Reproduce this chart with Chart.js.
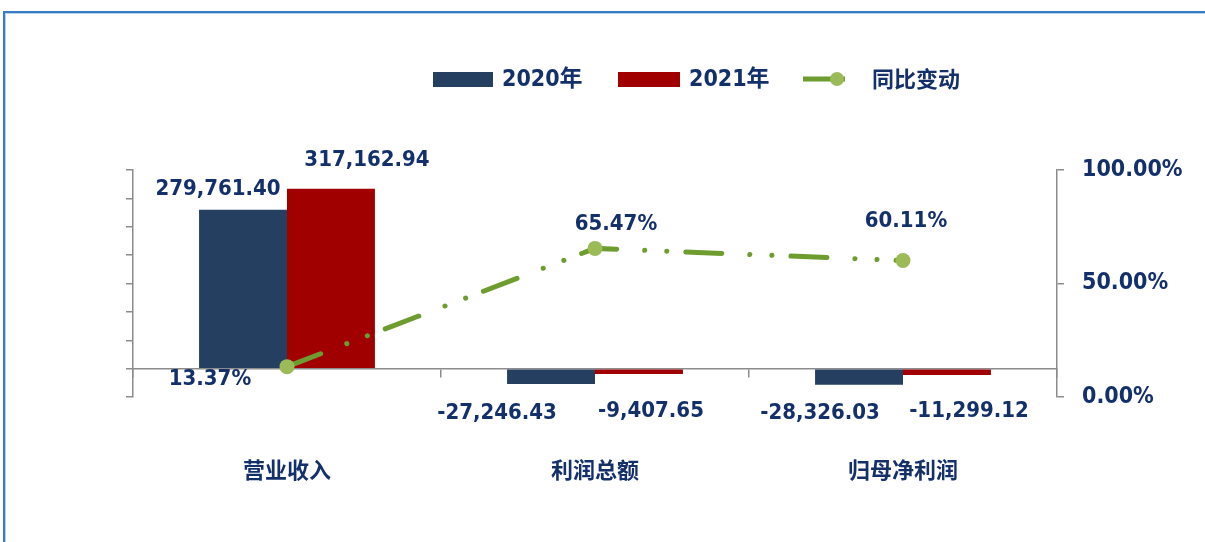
<!DOCTYPE html>
<html>
<head>
<meta charset="utf-8">
<script src="https://cdn.jsdelivr.net/npm/chart.js@4.4.1/dist/chart.umd.min.js"></script>
<style>
    body { margin: 0; background: #fff; }
    #wrap { position: relative; width: 1205px; height: 542px; overflow: hidden; }
    #frame { position: absolute; left: 3px; top: 11px; width: 1300px; height: 600px;
             border-left: 2px solid #3a7bc3; border-top: 2px solid #3a7bc3;
             box-shadow: inset 1px 1px 0 #b3d3f0; }
    canvas { position: absolute; left: 0; top: 0; }
</style>
</head>
<body>
<div id="wrap">
    <div id="frame"></div>
    <canvas id="chart" width="1205" height="542"></canvas>
</div>
<script>
// Chart data
const categories = ['营业收入', '利润总额', '归母净利润'];
const values2020 = [279761.40, -27246.43, -28326.03];
const values2021 = [317162.94, -9407.65, -11299.12];
const yoyChange = [13.37, 65.47, 60.11]; // percent
const seriesNames = ['2020年', '2021年', '同比变动'];

// Axis ranges
const leftMin = -50000, leftMax = 350000, leftStep = 50000;
const rightTicks = [0, 50, 100];

// Label offsets (dx, dy) from each mark, as placed in the original
const barLabelOffsets = [
    [[-25, -21], [-54, 29], [-39, 29]],
    [[36, -28], [12, 37], [22, 36]]
];
const lineLabelOffsets = [[-77, 13], [21, -24], [3, -39]];

const NAVY = '#14306b';
const GRAY = '#8c8c8c';
const BLUE = '#243f60';
const RED = '#a00000';
const GREEN = '#6f9c2f';
const GREEN_LIGHT = '#9bbb59';
const NUM_FONT = '"DejaVu Sans Condensed", "DejaVu Sans", sans-serif';
const CJK_FONT = '"Noto Sans CJK SC", sans-serif';

function fmtNumber(v) {
    return v.toLocaleString('en-US', { minimumFractionDigits: 2, maximumFractionDigits: 2 });
}

// Data labels on bars and line points
const dataLabels = {
    id: 'dataLabels',
    afterDatasetsDraw(chart) {
        const ctx = chart.ctx;
        ctx.save();
        ctx.fillStyle = NAVY;
        ctx.textAlign = 'center';
        ctx.textBaseline = 'middle';
        ctx.font = 'bold 22px ' + NUM_FONT;
        [0, 1].forEach(di => {
            const meta = chart.getDatasetMeta(di);
            meta.data.forEach((el, i) => {
                const off = barLabelOffsets[di][i];
                const v = chart.data.datasets[di].data[i];
                ctx.fillText(fmtNumber(v), el.x + off[0], el.y + off[1]);
            });
        });
        const lineMeta = chart.getDatasetMeta(2);
        lineMeta.data.forEach((el, i) => {
            const off = lineLabelOffsets[i];
            ctx.fillText(yoyChange[i].toFixed(2) + '%', el.x + off[0], el.y + off[1]);
        });
        ctx.restore();
    }
};

// Legend drawn across the top
const topLegend = {
    id: 'topLegend',
    afterDraw(chart) {
        const ctx = chart.ctx;
        const y = 79;
        ctx.save();
        ctx.textBaseline = 'middle';
        ctx.textAlign = 'left';
        ctx.fillStyle = BLUE;
        ctx.fillRect(433, y - 7, 60, 15);
        ctx.fillStyle = RED;
        ctx.fillRect(618, y - 7, 62, 15);
        ctx.strokeStyle = GREEN;
        ctx.lineWidth = 5;
        ctx.beginPath();
        ctx.moveTo(803, y);
        ctx.lineTo(845, y);
        ctx.stroke();
        ctx.fillStyle = GREEN_LIGHT;
        ctx.beginPath();
        ctx.arc(837, y, 7, 0, Math.PI * 2);
        ctx.fill();
        ctx.fillStyle = NAVY;
        ctx.font = 'bold 23px ' + NUM_FONT + ', ' + CJK_FONT;
        ctx.fillText(seriesNames[0], 502, y + 1);
        ctx.fillText(seriesNames[1], 689, y + 1);
        ctx.font = 'bold 22px ' + CJK_FONT;
        ctx.fillText(seriesNames[2], 872, y);
        ctx.restore();
    }
};

const ctx = document.getElementById('chart').getContext('2d');
const chart = new Chart(ctx, {
    type: 'bar',
    data: {
        labels: categories,
        datasets: [
            {
                label: seriesNames[0],
                data: values2020,
                backgroundColor: BLUE,
                categoryPercentage: 0.571,
                barPercentage: 1.0,
                yAxisID: 'y',
                order: 1
            },
            {
                label: seriesNames[1],
                data: values2021,
                backgroundColor: RED,
                categoryPercentage: 0.571,
                barPercentage: 1.0,
                yAxisID: 'y',
                order: 2
            },
            {
                type: 'line',
                label: seriesNames[2],
                data: yoyChange,
                yAxisID: 'y1',
                borderColor: GREEN,
                borderWidth: 5,
                borderDash: [36, 28, 0.1, 22, 0.1, 19],
                borderCapStyle: 'round',
                pointRadius: 7.5,
                pointBackgroundColor: GREEN_LIGHT,
                pointBorderColor: GREEN_LIGHT,
                pointBorderWidth: 0,
                tension: 0,
                order: 0
            }
        ]
    },
    options: {
        responsive: false,
        animation: false,
        layout: { padding: { top: 170, left: 0, right: 0, bottom: 0 } },
        plugins: {
            legend: { display: false },
            tooltip: { enabled: false }
        },
        scales: {
            x: {
                position: { y: 0 },
                grid: { offset: true, drawOnChartArea: false, tickLength: 8, color: GRAY, lineWidth: 1.5 },
                border: { color: GRAY, width: 1.5 },
                ticks: { display: false },
                afterFit: s => { s.height = 0; }
            },
            x2: {
                type: 'category',
                labels: categories,
                position: 'bottom',
                grid: { display: false },
                border: { display: false },
                ticks: {
                    color: NAVY,
                    padding: 51,
                    font: { family: CJK_FONT, size: 22, weight: 'bold' }
                },
                afterFit: s => { s.height = 145; }
            },
            y: {
                position: 'left',
                min: leftMin,
                max: leftMax,
                ticks: { stepSize: leftStep, display: false },
                grid: { drawOnChartArea: false, tickLength: 7, color: GRAY, lineWidth: 1.5 },
                border: { color: GRAY, width: 1.5 },
                afterFit: s => { s.width = 133; }
            },
            y1: {
                position: 'right',
                min: rightTicks[0],
                max: rightTicks[rightTicks.length - 1],
                afterBuildTicks: s => { s.ticks = rightTicks.map(v => ({ value: v })); },
                ticks: {
                    color: NAVY,
                    padding: 18,
                    font: { family: NUM_FONT, size: 23, weight: 'bold' },
                    callback: v => v.toFixed(2) + '%'
                },
                grid: { drawOnChartArea: false, tickLength: 7, color: GRAY, lineWidth: 1.5 },
                border: { color: GRAY, width: 1.5 },
                afterFit: s => { s.width = 148; }
            }
        }
    },
    plugins: [dataLabels, topLegend]
});
</script>
</body>
</html>
